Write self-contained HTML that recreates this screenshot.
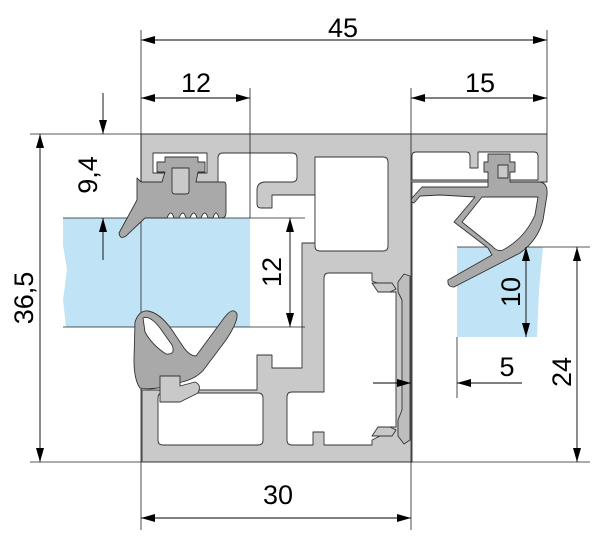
<!DOCTYPE html>
<html><head><meta charset="utf-8"><style>
html,body{margin:0;padding:0;background:#fff;width:600px;height:538px;overflow:hidden}
svg{display:block}
text{font-family:"Liberation Sans",sans-serif;font-size:27px;fill:#000}
</style></head><body>
<svg width="600" height="538" viewBox="0 0 600 538" xmlns="http://www.w3.org/2000/svg">
<defs>
<marker id="a" viewBox="0 0 14 8" refX="14" refY="4" markerUnits="userSpaceOnUse" markerWidth="14" markerHeight="8" orient="auto-start-reverse"><path d="M0,0 L14,4 L0,8 z" fill="#000"/></marker>
</defs>
<!-- frame -->
<g stroke="#333" stroke-width="0.9" stroke-linejoin="round">
<path d="M141,134 H547 V182 H412 V462 H142 V390 H141 Z" fill="#c9c9c9"/>
<path d="M141,183 H218 V158 Q218,153 223,153 H292 Q297,153 297,158 V177 Q297,182 292,182 H264 Q257,183 257,190 V204 Q257,208 261,208 H272 V195 H315 V243 H302 V368 H272 V355 H257 V390 H141 Z" fill="#fff"/>
<path d="M153,153 H207 V173 H153 Z" fill="#fff"/>
<path d="M315,157 H383 Q388,157 388,162 V246 Q388,251 383,251 H320 Q315,251 315,246 Z" fill="#fff"/>
<path d="M329,273 H372 V281 L380,284 V292 H396 V427 H380 V436 L372,440 V445 H324 V432 H313 V445 H292 Q287,445 287,440 V397 Q287,392 292,392 H324 V278 Q324,273 329,273 Z" fill="#fff"/>
<path d="M398,282 L404,274 L410,276 L410,440 L404,444 L398,436 L398,420 L402,410 L402,300 L398,292 Z" fill="#bdbdbd"/>
<path d="M372,283 L392,283 L396,289 L390,292 L378,292 Z M372,436 L392,436 L396,430 L390,427 L378,427 Z" fill="#c9c9c9"/>
<path d="M163,393 H258 Q263,393 263,398 V440 Q263,445 258,445 H163 Q158,445 158,440 V398 Q158,393 163,393 Z" fill="#fff"/>
<path d="M416,152 H466 Q470,152 470,156 V168 H478 V152 H534 Q538,152 538,156 V180 H412 V156 Q412,152 416,152 Z" fill="#fff"/>
</g>
<!-- glass -->
<path d="M63,218 L250,218 L250,327 L66,327 L63,300 L67,270 L63,245 Z" fill="#c0e4f5"/>
<path d="M457,247 L543,247 L539,290 L537,337 L457,337 Z" fill="#c0e4f5"/>
<g stroke="#222" stroke-width="0.8" fill="none">
<line x1="141" y1="30" x2="141" y2="530"/>
<line x1="547" y1="30" x2="547" y2="134"/>
<line x1="250" y1="88" x2="250" y2="218"/>
<line x1="411" y1="88" x2="411" y2="530"/>
<line x1="30" y1="134" x2="141" y2="134"/>
<line x1="30" y1="462" x2="141" y2="462"/>
<line x1="63" y1="218" x2="305" y2="218"/>
<line x1="63" y1="327" x2="305" y2="327"/>
<line x1="457" y1="247" x2="590" y2="247"/>
<line x1="411" y1="462" x2="590" y2="462"/>
<line x1="457" y1="337" x2="457" y2="398"/>
</g>
<!-- gaskets -->
<g fill="#a9a9a9" stroke="#333" stroke-width="0.9" stroke-linejoin="round">
<path d="M157,162 H165 V157 H198 V162 H205 V172 H198 L196,182 H224 Q226,182 226,186 V212 Q226,218 222,218 H219 Q216,208 213,218 H208 Q205,208 201,218 H197 Q194,208 190,218 H186 Q183,208 179,218 H174 Q171,208 167,218 H145 L126,236 Q120,240 119,233 L137,200 L137,178 L141,182 H162 L165,172 H157 Z"/>
<path d="M172,168 H189 V191 Q189,194 186,194 H175 Q172,194 172,191 Z" fill="#c9c9c9"/>
<path d="M135,322 Q139,310 148,311 Q160,313 172,330 L184,348 Q190,356 196,356 L224,318 Q233,306 237,314 Q238,322 226,340 L205,368 Q198,378 182,382 L164,387 Q148,390 140,388 Q134,380 134,360 Z"/>
<path d="M143,318 Q150,315 160,328 L172,345 Q176,355 166,354 Q152,345 145,332 Z" fill="#fff"/>
<path d="M160,376 H180 V386 L195,382 Q202,385 198,393 L180,402 H160 Z" fill="#c9c9c9"/>
<path d="M484,162 H488 V154 H510 V162 H515 V172 H510 V182 H540 Q548,183 547,195 L543,220 Q538,240 520,253 L454,287 Q447,287 448,280 L492,255 L488,248 L454,222 L475,197 L440,195 L420,196 L414,203 Q410,202 412,198 L422,187 H488 V172 H484 Z"/>
<path d="M498,165 H508 V178 H498 Z" fill="#c9c9c9"/>
<path d="M482,197 L462,222 L492,246 Q497,252 503,250 Q525,238 535,215 L538,197 Z" fill="#fff"/>
</g>
<!-- dimension lines -->
<g stroke="#000" stroke-width="0.9" fill="none">
<line x1="141" y1="40" x2="547" y2="40" marker-start="url(#a)" marker-end="url(#a)"/>
<line x1="141" y1="98" x2="250" y2="98" marker-start="url(#a)" marker-end="url(#a)"/>
<line x1="411" y1="98" x2="547" y2="98" marker-start="url(#a)" marker-end="url(#a)"/>
<line x1="141" y1="518" x2="411" y2="518" marker-start="url(#a)" marker-end="url(#a)"/>
<line x1="40" y1="134" x2="40" y2="462" marker-start="url(#a)" marker-end="url(#a)"/>
<line x1="103" y1="93" x2="103" y2="134" marker-end="url(#a)"/>
<line x1="103" y1="260" x2="103" y2="218" marker-end="url(#a)"/>
<line x1="290" y1="218" x2="290" y2="327" marker-start="url(#a)" marker-end="url(#a)"/>
<line x1="526" y1="247" x2="526" y2="337" marker-start="url(#a)" marker-end="url(#a)"/>
<line x1="577" y1="247" x2="577" y2="462" marker-start="url(#a)" marker-end="url(#a)"/>
<line x1="373" y1="383" x2="411" y2="383" marker-end="url(#a)"/>
<line x1="522" y1="383" x2="457" y2="383" marker-end="url(#a)"/>
</g>
<text x="343" y="37" text-anchor="middle">45</text>
<text x="196" y="92" text-anchor="middle">12</text>
<text x="480" y="92" text-anchor="middle">15</text>
<text x="278" y="504" text-anchor="middle">30</text>
<text x="507" y="376" text-anchor="middle">5</text>
<text transform="translate(33,298) rotate(-90)" text-anchor="middle">36,5</text>
<text transform="translate(97,175) rotate(-90)" text-anchor="middle">9,4</text>
<text transform="translate(281,272) rotate(-90)" text-anchor="middle">12</text>
<text transform="translate(520,292) rotate(-90)" text-anchor="middle">10</text>
<text transform="translate(571,372) rotate(-90)" text-anchor="middle">24</text>
</svg>
</body></html>
